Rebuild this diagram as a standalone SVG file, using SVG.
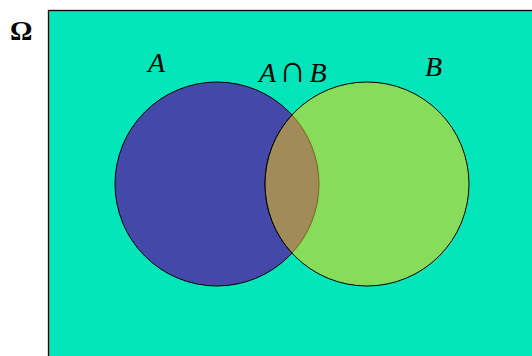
<svg xmlns="http://www.w3.org/2000/svg" width="532" height="356" viewBox="0 0 532 356">
<style>
.lbl{font-family:"Liberation Serif","Times New Roman",serif;font-size:28px;fill:#000}
.it{font-style:italic}
</style>
<rect width="532" height="356" fill="#fff"/>
<g id="omega">
<rect x="48.5" y="10.5" width="490" height="360" fill="#00e5b9" stroke="#000" stroke-width="1.3"/>
<text class="lbl" x="10" y="40" font-size="29" font-weight="bold">Ω</text>
</g>
<g id="A">
<circle cx="217" cy="184" r="102" fill="#4449a9" stroke="#000" stroke-width="1"/>
<text class="lbl it" x="148" y="72">A</text>
</g>
<g id="B">
<circle cx="367" cy="184" r="102" fill="#87dd5a" stroke="#000" stroke-width="1"/>
<text class="lbl it" x="425" y="76">B</text>
</g>
<g id="AB">
<path d="M292,114.9 A102,102 0 0 1 292,253.1 A102,102 0 0 1 292,114.9 Z" fill="#a08b59"/>
<path d="M292,114.9 A102,102 0 0 1 292,253.1" fill="none" stroke="#7a6420" stroke-width="1"/>
<path d="M292,253.1 A102,102 0 0 1 292,114.9" fill="none" stroke="#000" stroke-width="1"/>
<text class="lbl" x="259" y="82"><tspan class="it">A</tspan><tspan dx="3" font-size="38">∩</tspan><tspan class="it" dx="3">B</tspan></text>
</g>
<g id="connectors"/>
</svg>
